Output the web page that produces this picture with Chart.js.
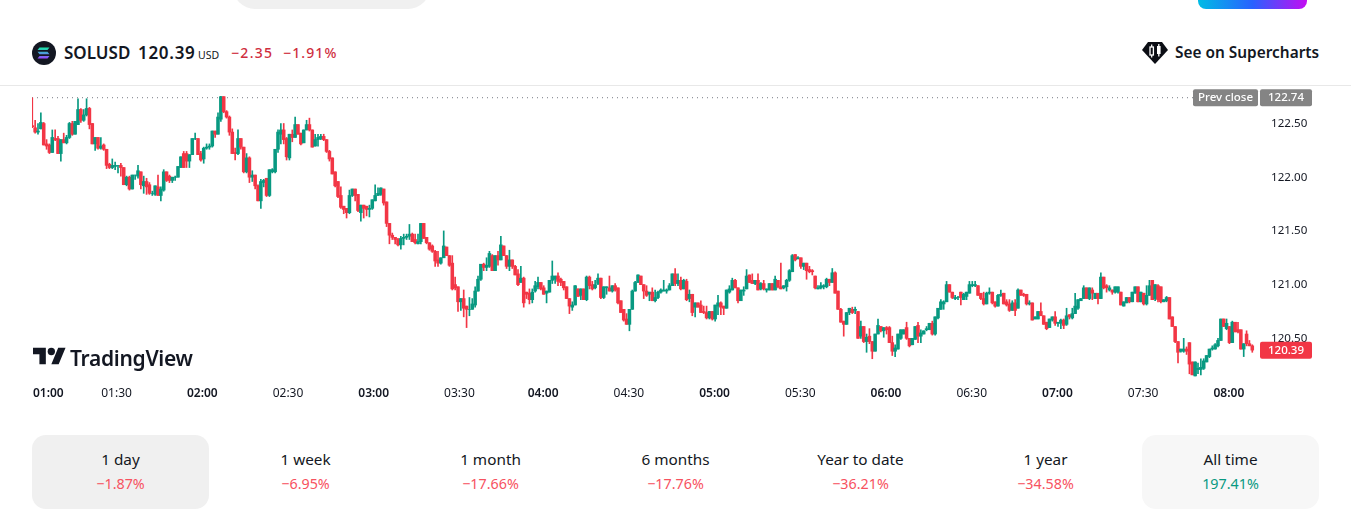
<!DOCTYPE html>
<html>
<head>
<meta charset="utf-8">
<title>SOLUSD</title>
<script src="https://cdn.jsdelivr.net/npm/chart.js@4/dist/chart.umd.min.js"></script>
<style>
  html, body { margin: 0; padding: 0; background: #fff; overflow: hidden; }
  body { width: 1353px; height: 522px; position: relative; font-family: "Noto Sans", sans-serif; color: #131722; }
  .abs { position: absolute; white-space: nowrap; }
  #pill { left: 233px; top: -20px; width: 197px; height: 29px; background: #f0f0f0; border-radius: 0 0 22px 22px; }
  #cta { left: 1198px; top: -20px; width: 109px; height: 29px; border-radius: 0 0 8px 8px; background: linear-gradient(90deg, #00bce5, #2962ff 50%, #c40cf2); }
  #rule { left: 0; top: 85px; width: 1351px; height: 1px; background: #e8e8e8; }
  #sym { left: 64px; top: 41px; font-size: 17px; font-weight: 600; line-height: 24px; }
  #last { left: 138px; top: 41px; font-size: 17px; font-weight: 600; line-height: 24px; letter-spacing: .7px; }
  #cur { left: 198px; top: 47px; font-size: 10.5px; line-height: 16px; }
  #chg { left: 231px; top: 42px; font-size: 14px; font-weight: 500; line-height: 22px; color: #cf2e3e; letter-spacing: 1.3px; }
  #pct { left: 283px; top: 42px; font-size: 14px; font-weight: 500; line-height: 22px; color: #cf2e3e; letter-spacing: 1.1px; }
  #see { left: 1175px; top: 42px; font-size: 15.4px; font-weight: 600; line-height: 22px; }
  #word { left: 70px; top: 342px; font-size: 21px; font-weight: 600; line-height: 32px; letter-spacing: -.3px; }
  #chartWrap { position: absolute; left: 0; top: 86px; width: 1353px; height: 320px; }
  .card { position: absolute; top: 435px; width: 177px; height: 74px; border-radius: 14px; text-align: center; }
  .card .t { position: absolute; left: 0; right: 0; top: 13px; font-size: 15.3px; line-height: 22px; }
  .card .v { position: absolute; left: 0; right: 0; top: 39px; font-size: 14.3px; line-height: 20px; }
</style>
</head>
<body>
<div class="abs" id="pill"></div>
<div class="abs" id="cta"></div>
<svg class="abs" style="left:32px;top:41px" width="24" height="24" viewBox="0 0 24 24">
  <defs><linearGradient id="sol" x1="0" y1="0" x2="0" y2="1"><stop offset="0" stop-color="#19e6a8"/><stop offset=".5" stop-color="#4aa0d8"/><stop offset="1" stop-color="#9a45ff"/></linearGradient></defs>
  <circle cx="12" cy="12" r="12" fill="#131722"/>
  <path d="M7.5 6.5h10l-2 2.6h-10zM5.5 10.7h10l2 2.6h-10zM7.5 14.9h10l-2 2.6h-10z" fill="url(#sol)"/>
</svg>
<div class="abs" id="sym">SOLUSD</div>
<div class="abs" id="last">120.39</div>
<div class="abs" id="cur">USD</div>
<div class="abs" id="chg">−2.35</div>
<div class="abs" id="pct">−1.91%</div>
<svg class="abs" style="left:1142px;top:41px" width="26" height="24" viewBox="0 0 26 24">
  <path d="M6 1h14l6 8-13 14L0 9z" fill="#0c0e15"/>
  <rect x="8" y="6" width="3.4" height="8" fill="none" stroke="#fff" stroke-width="1.3"/><path d="M9.7 3.5v2.5M9.7 14v2.5" stroke="#fff" stroke-width="1.3"/>
  <rect x="15" y="5" width="3.6" height="8" fill="#fff"/><path d="M16.8 3v2M16.8 13v2.5" stroke="#fff" stroke-width="1.3"/>
</svg>
<div class="abs" id="see">See on Supercharts</div>
<div class="abs" id="rule"></div>

<div id="chartWrap"><canvas id="candles" width="1353" height="320"></canvas></div>

<svg class="abs" style="left:33px;top:344px" width="33" height="26" viewBox="0 0 36 28">
  <path d="M14 22H7V11H0V4h14v18zM28 22h-8l7.5-18h8L28 22z" fill="#131722"/><circle cx="20" cy="8" r="4" fill="#131722"/>
</svg>
<div class="abs" id="word">TradingView</div>

<script>
const prevClose = 122.74;
const lastPrice = 120.39;
const yTicks = [120.5, 121, 121.5, 122, 122.5];
const timeLabels = ['01:00','01:30','02:00','02:30','03:00','03:30','04:00','04:30','05:00','05:30','06:00','06:30','07:00','07:30','08:00'];
const timeTicks = [5.6,29.5,59.5,89.5,119.5,149.5,178.8,208.8,238.8,268.8,298.8,328.8,358.8,388.8,418.8];
const statLabels = ['1 day','1 week','1 month','6 months','Year to date','1 year','All time'];
const statValues = ['−1.87%','−6.95%','−17.66%','−17.76%','−36.21%','−34.58%','197.41%'];

const opens = [
122.48,122.46,122.42,122.45,122.50,122.31,122.30,122.23,122.36,122.36,
122.22,122.35,122.32,122.37,122.50,122.40,122.49,122.63,122.53,122.58,
122.64,122.50,122.31,122.37,122.27,122.30,122.26,122.12,122.09,122.10,
122.11,122.11,122.09,121.93,122.00,121.89,122.02,122.01,122.05,121.92,
121.96,121.93,121.85,121.84,121.91,121.83,121.88,122.05,122.01,121.97,
122.00,122.00,122.09,122.22,122.22,122.15,122.21,122.36,122.36,122.22,
122.17,122.27,122.28,122.29,122.43,122.40,122.54,122.75,122.61,122.56,
122.42,122.23,122.22,122.36,122.28,122.05,122.18,122.00,122.02,121.92,
121.78,121.95,121.99,121.83,122.05,122.05,122.26,122.40,122.44,122.36,
122.18,122.40,122.37,122.49,122.41,122.32,122.44,122.49,122.44,122.29,
122.35,122.36,122.38,122.35,122.24,122.18,122.05,121.96,121.83,121.73,
121.71,121.67,121.83,121.89,121.84,121.67,121.74,121.73,121.70,121.71,
121.78,121.83,121.84,121.89,121.77,121.57,121.46,121.44,121.42,121.37,
121.43,121.44,121.45,121.47,121.42,121.38,121.40,121.57,121.44,121.39,
121.36,121.31,121.23,121.20,121.25,121.35,121.27,121.20,121.00,120.98,
120.84,120.87,120.80,120.77,120.77,120.81,120.94,121.05,121.19,121.16,
121.17,121.27,121.13,121.27,121.23,121.36,121.27,121.17,121.23,121.17,
121.10,121.02,121.06,120.93,120.92,120.86,120.94,120.98,121.02,120.97,
120.92,120.93,121.04,121.05,121.08,121.05,121.03,120.98,120.87,120.79,
120.81,120.96,120.90,120.96,120.86,121.07,121.00,120.97,121.01,121.06,
120.88,120.97,120.97,120.94,120.99,120.97,120.85,120.77,120.68,120.63,
120.77,120.94,121.02,121.08,121.00,120.94,120.91,120.93,120.85,120.88,
120.93,120.94,120.94,120.95,120.99,121.10,121.01,121.04,120.96,121.03,
120.87,120.91,120.79,120.83,120.81,120.75,120.74,120.69,120.75,120.68,
120.80,120.83,120.80,120.78,120.93,120.95,121.04,120.97,120.85,120.94,
120.96,121.09,121.04,121.01,121.04,120.96,121.01,120.95,120.95,121.01,
120.95,121.04,120.98,120.97,120.98,121.04,121.12,121.28,121.24,121.25,
121.17,121.20,121.14,121.13,121.08,120.96,120.97,120.98,120.98,121.05,
121.02,121.11,120.94,120.77,120.66,120.63,120.74,120.77,120.76,120.75,
120.52,120.61,120.47,120.52,120.47,120.38,120.54,120.61,120.57,120.60,
120.60,120.46,120.38,120.40,120.50,120.54,120.60,120.50,120.44,120.49,
120.62,120.52,120.54,120.58,120.58,120.64,120.54,120.69,120.77,120.82,
120.84,121.00,120.93,120.87,120.88,120.93,120.86,120.89,120.92,120.99,
120.99,120.99,120.92,120.87,120.82,120.92,120.93,120.84,120.80,120.90,
120.92,120.84,120.82,120.76,120.83,120.78,120.95,120.91,120.91,120.82,
120.83,120.68,120.68,120.75,120.71,120.65,120.60,120.67,120.70,120.64,
120.64,120.67,120.63,120.72,120.69,120.73,120.78,120.85,120.87,120.97,
120.87,120.95,120.87,120.92,120.87,121.07,120.99,120.95,120.95,120.93,
120.93,120.93,120.80,120.83,120.88,120.84,120.92,120.98,120.84,120.92,
120.82,120.90,121.04,120.87,120.99,120.98,120.84,120.85,120.88,120.70,
120.61,120.47,120.38,120.38,120.40,120.46,120.28,120.15,120.21,120.21,
120.22,120.28,120.33,120.40,120.40,120.43,120.48,120.68,120.59,120.61,
120.46,120.65,120.58,120.58,120.40,120.54,120.45,120.43];

const closes = [
122.47,122.42,122.43,122.51,122.30,122.29,122.23,122.37,122.35,122.22,
122.35,122.32,122.37,122.50,122.40,122.52,122.63,122.53,122.58,122.64,
122.49,122.31,122.37,122.27,122.29,122.26,122.11,122.09,122.11,122.11,
122.11,122.09,121.93,122.00,121.89,122.02,122.02,122.06,121.93,121.96,
121.91,121.85,121.85,121.92,121.83,121.89,122.05,121.97,121.97,122.00,
122.00,122.10,122.19,122.09,122.15,122.21,122.36,122.36,122.21,122.16,
122.27,122.28,122.29,122.43,122.40,122.56,122.75,122.61,122.56,122.42,
122.22,122.22,122.36,122.28,122.05,122.18,122.00,122.02,121.92,121.78,
121.96,121.97,121.83,122.07,122.07,122.26,122.42,122.44,122.35,122.19,
122.40,122.37,122.49,122.40,122.31,122.44,122.49,122.44,122.28,122.35,
122.37,122.38,122.35,122.24,122.17,122.03,121.92,121.82,121.72,121.70,
121.67,121.83,121.89,121.83,121.69,121.74,121.71,121.70,121.71,121.79,
121.83,121.85,121.90,121.76,121.57,121.46,121.44,121.42,121.37,121.43,
121.44,121.45,121.47,121.40,121.39,121.40,121.57,121.43,121.39,121.33,
121.31,121.22,121.20,121.25,121.36,121.27,121.18,120.96,120.97,120.84,
120.87,120.78,120.77,120.77,120.82,120.94,121.05,121.19,121.16,121.18,
121.29,121.13,121.27,121.23,121.37,121.27,121.17,121.23,121.17,121.09,
121.00,121.06,120.83,120.91,120.86,120.93,120.99,121.02,120.96,120.91,
120.94,121.04,121.08,121.08,121.03,121.02,120.97,120.87,120.80,120.81,
120.99,120.89,120.96,120.86,121.07,120.99,120.96,121.00,121.06,120.88,
120.98,120.98,120.94,120.99,120.95,120.83,120.74,120.67,120.63,120.77,
120.94,121.02,121.09,121.00,120.94,120.90,120.93,120.85,120.88,120.93,
120.95,120.95,120.95,120.99,121.10,121.01,121.04,120.96,121.04,120.86,
120.91,120.74,120.83,120.79,120.74,120.74,120.69,120.75,120.68,120.81,
120.83,120.79,120.78,120.95,120.96,121.04,120.97,120.85,120.95,120.95,
121.08,121.02,121.01,121.04,120.95,121.01,120.96,120.96,121.01,120.95,
121.05,120.98,120.96,120.99,121.04,121.13,121.27,121.23,121.25,121.17,
121.20,121.13,121.12,121.12,120.97,120.97,120.99,120.99,121.05,121.02,
121.11,120.92,120.77,120.65,120.63,120.74,120.78,120.74,120.77,120.50,
120.61,120.47,120.51,120.47,120.38,120.54,120.62,120.57,120.60,120.58,
120.46,120.38,120.41,120.54,120.58,120.58,120.50,120.43,120.50,120.61,
120.52,120.55,120.57,120.59,120.64,120.54,120.70,120.78,120.84,120.84,
121.00,120.93,120.88,120.88,120.88,120.88,120.91,120.93,121.00,121.00,
121.00,120.90,120.87,120.82,120.92,120.93,120.83,120.80,120.90,120.91,
120.82,120.81,120.76,120.83,120.76,120.95,120.90,120.90,120.82,120.83,
120.67,120.70,120.75,120.71,120.63,120.59,120.68,120.70,120.64,120.65,
120.67,120.62,120.71,120.70,120.73,120.80,120.86,120.87,120.97,120.87,
120.97,120.92,120.92,120.87,121.07,120.97,120.97,120.97,120.93,120.98,
120.98,120.81,120.84,120.88,120.84,120.93,120.98,120.84,120.93,120.82,
120.90,120.99,120.86,121.00,120.86,120.84,120.86,120.88,120.68,120.61,
120.47,120.37,120.40,120.40,120.38,120.26,120.16,120.28,120.22,120.23,
120.29,120.34,120.40,120.41,120.44,120.48,120.68,120.61,120.64,120.46,
120.65,120.56,120.56,120.40,120.45,120.45,120.43,120.39];

const highs = [
122.74,122.53,122.50,122.60,122.51,122.35,122.31,122.44,122.44,122.38,
122.35,122.41,122.39,122.51,122.52,122.52,122.73,122.64,122.63,122.73,
122.65,122.50,122.37,122.37,122.37,122.31,122.26,122.13,122.17,122.14,
122.11,122.13,122.09,122.01,122.01,122.02,122.02,122.11,122.05,122.01,
121.99,121.95,121.87,121.92,122.02,121.91,122.07,122.05,122.02,122.00,
122.01,122.10,122.19,122.24,122.24,122.21,122.36,122.41,122.36,122.24,
122.28,122.31,122.31,122.43,122.43,122.60,122.76,122.75,122.62,122.57,
122.45,122.27,122.44,122.36,122.28,122.22,122.19,122.06,122.02,121.93,
121.98,121.98,121.99,122.07,122.08,122.26,122.44,122.50,122.50,122.37,
122.40,122.44,122.56,122.49,122.41,122.44,122.53,122.55,122.44,122.40,
122.40,122.40,122.40,122.35,122.25,122.18,122.05,121.96,121.91,121.73,
121.71,121.88,121.89,121.89,121.84,121.74,121.74,121.73,121.74,121.79,
121.93,121.90,121.90,121.89,121.77,121.57,121.48,121.44,121.43,121.45,
121.47,121.47,121.56,121.48,121.47,121.47,121.57,121.57,121.44,121.39,
121.37,121.32,121.31,121.25,121.50,121.35,121.27,121.27,121.07,120.98,
120.87,120.95,120.80,120.88,120.87,120.98,121.08,121.19,121.20,121.25,
121.31,121.28,121.27,121.31,121.45,121.36,121.27,121.32,121.23,121.18,
121.14,121.17,121.07,120.93,120.96,120.96,121.03,121.07,121.02,120.99,
120.94,121.04,121.22,121.08,121.11,121.06,121.03,120.98,120.87,120.84,
120.99,120.96,120.96,120.96,121.08,121.08,121.03,121.04,121.10,121.06,
120.98,120.98,121.08,120.99,121.01,120.97,120.85,120.77,120.73,120.77,
120.95,121.03,121.09,121.08,121.00,120.99,120.93,120.97,120.95,120.94,
120.96,121.04,120.96,121.01,121.10,121.15,121.10,121.07,121.05,121.05,
120.95,120.91,120.83,120.83,120.85,120.80,120.80,120.75,120.75,120.81,
120.90,120.84,120.80,120.95,120.99,121.06,121.05,120.97,120.95,120.98,
121.14,121.09,121.10,121.04,121.10,121.02,121.04,120.96,121.01,121.01,
121.08,121.04,121.20,120.99,121.05,121.14,121.28,121.28,121.26,121.25,
121.20,121.20,121.17,121.14,121.08,120.99,121.02,121.00,121.06,121.05,
121.15,121.12,120.94,120.78,120.66,120.74,120.78,120.79,120.79,120.75,
120.66,120.61,120.54,120.59,120.47,120.54,120.68,120.61,120.60,120.61,
120.61,120.52,120.44,120.54,120.58,120.58,120.65,120.50,120.50,120.61,
120.65,120.58,120.57,120.61,120.64,120.66,120.70,120.78,120.86,120.85,
121.03,121.00,120.93,120.90,120.89,120.93,120.92,120.93,121.03,121.03,
121.03,120.99,120.92,120.93,120.93,120.97,120.93,120.84,120.91,120.95,
120.92,120.86,120.86,120.85,120.86,120.96,120.95,120.92,120.91,120.85,
120.83,120.70,120.75,120.83,120.71,120.65,120.68,120.70,120.75,120.65,
120.68,120.68,120.78,120.72,120.78,120.92,120.86,120.87,120.99,120.97,
120.97,120.97,120.92,120.92,121.11,121.07,121.00,120.99,120.95,120.98,
120.98,120.93,120.84,120.88,120.88,120.93,120.98,120.98,120.93,120.92,
120.99,121.04,121.04,121.00,121.00,120.98,120.86,120.89,120.88,120.70,
120.61,120.47,120.40,120.50,120.42,120.46,120.28,120.28,120.27,120.31,
120.31,120.34,120.40,120.43,120.45,120.50,120.68,120.68,120.68,120.61,
120.66,120.65,120.65,120.58,120.45,120.57,120.48,120.44];

const lows = [
122.46,122.41,122.40,122.45,122.30,122.26,122.22,122.23,122.34,122.22,
122.15,122.32,122.31,122.36,122.39,122.40,122.49,122.51,122.52,122.57,
122.45,122.31,122.25,122.26,122.26,122.25,122.08,122.08,122.08,122.07,
122.04,122.01,121.93,121.92,121.88,121.89,121.98,121.99,121.89,121.85,
121.84,121.84,121.83,121.83,121.83,121.78,121.87,121.96,121.95,121.95,
121.97,122.00,122.09,122.09,122.09,122.09,122.21,122.35,122.21,122.15,
122.13,122.26,122.26,122.28,122.37,122.40,122.52,122.60,122.55,122.39,
122.22,122.16,122.21,122.26,122.04,122.04,121.95,121.96,121.89,121.78,
121.71,121.91,121.82,121.82,122.04,122.04,122.23,122.31,122.31,122.16,
122.16,122.33,122.37,122.40,122.30,122.32,122.44,122.43,122.28,122.29,
122.29,122.35,122.34,122.23,122.15,122.03,121.91,121.81,121.71,121.66,
121.62,121.66,121.82,121.78,121.68,121.59,121.62,121.64,121.63,121.70,
121.78,121.83,121.83,121.74,121.54,121.38,121.42,121.38,121.36,121.33,
121.37,121.42,121.42,121.40,121.38,121.38,121.38,121.43,121.38,121.32,
121.30,121.17,121.17,121.19,121.25,121.27,121.17,120.95,120.95,120.75,
120.76,120.70,120.60,120.71,120.77,120.79,120.94,121.04,121.13,121.13,
121.16,121.13,121.13,121.18,121.23,121.27,121.15,121.13,121.15,121.09,
120.99,121.02,120.79,120.87,120.82,120.83,120.93,120.96,120.95,120.91,
120.83,120.93,121.01,121.01,120.99,120.99,120.95,120.87,120.73,120.76,
120.81,120.89,120.86,120.86,120.85,120.96,120.95,120.96,121.00,120.87,
120.87,120.91,120.94,120.93,120.94,120.82,120.74,120.66,120.63,120.57,
120.77,120.94,121.02,121.00,120.87,120.89,120.85,120.85,120.84,120.87,
120.92,120.94,120.92,120.95,120.99,120.99,120.99,120.95,120.96,120.85,
120.84,120.71,120.70,120.79,120.74,120.73,120.68,120.68,120.67,120.66,
120.72,120.72,120.72,120.78,120.92,120.95,120.97,120.83,120.85,120.90,
120.96,121.02,121.01,121.00,120.95,120.95,120.95,120.93,120.95,120.95,
120.95,120.97,120.96,120.96,120.94,121.03,121.12,121.22,121.24,121.15,
121.14,121.05,121.11,121.09,120.96,120.96,120.96,120.96,120.97,120.99,
121.02,120.92,120.77,120.65,120.52,120.63,120.72,120.73,120.73,120.50,
120.50,120.46,120.37,120.45,120.31,120.38,120.54,120.56,120.51,120.54,
120.46,120.34,120.33,120.40,120.49,120.54,120.49,120.42,120.44,120.49,
120.46,120.46,120.54,120.57,120.58,120.53,120.53,120.68,120.77,120.77,
120.84,120.93,120.87,120.86,120.86,120.81,120.86,120.86,120.92,120.98,
120.98,120.90,120.86,120.81,120.82,120.91,120.82,120.79,120.80,120.89,
120.82,120.80,120.75,120.76,120.71,120.78,120.90,120.89,120.81,120.81,
120.67,120.68,120.68,120.71,120.63,120.58,120.60,120.66,120.62,120.61,
120.59,120.59,120.62,120.68,120.68,120.73,120.77,120.85,120.87,120.87,
120.86,120.86,120.87,120.82,120.87,120.96,120.93,120.94,120.91,120.92,
120.92,120.81,120.80,120.83,120.83,120.84,120.92,120.84,120.84,120.81,
120.81,120.90,120.86,120.85,120.84,120.83,120.84,120.84,120.68,120.61,
120.46,120.27,120.37,120.37,120.35,120.17,120.16,120.15,120.17,120.16,
120.21,120.28,120.32,120.39,120.40,120.42,120.48,120.61,120.58,120.45,
120.46,120.56,120.55,120.40,120.33,120.43,120.43,120.37];

const upColor = '#089981';
const downColor = '#F23645';
const candleColors = opens.map((o, i) => closes[i] >= o ? upColor : downColor);

// stat cards under the chart
statLabels.forEach((label, i) => {
  const card = document.createElement('div');
  card.className = 'card';
  card.style.left = (32 + i * 185) + 'px';
  if (i === 0) card.style.background = '#f0f0f0';
  if (i === 6) card.style.background = '#f7f7f7';
  const isUp = !statValues[i].startsWith('−');
  card.innerHTML = '<div class="t">' + label + '</div><div class="v" style="color:' + (isUp ? upColor : '#F7525F') + '">' + statValues[i] + '</div>';
  document.body.appendChild(card);
});

const fontName = '"Noto Sans", sans-serif';

function tag(ctx, x, y, w, color, text) {
  ctx.fillStyle = color;
  ctx.beginPath();
  ctx.roundRect(x, y - 8.5, w, 17, 2);
  ctx.fill();
  ctx.fillStyle = '#fff';
  ctx.font = '500 11.5px ' + fontName;
  ctx.textAlign = 'center';
  ctx.textBaseline = 'middle';
  ctx.fillText(text, x + w / 2, y + 0.5);
}

// price tags on the right axis
const priceTags = {
  id: 'priceTags',
  afterDraw(chart) {
    const { ctx, scales: { y } } = chart;
    ctx.save();
    tag(ctx, 1193, y.getPixelForValue(prevClose), 65, '#848484', 'Prev close');
    tag(ctx, 1260, y.getPixelForValue(prevClose), 52, '#848484', prevClose.toFixed(2));
    tag(ctx, 1260, y.getPixelForValue(lastPrice), 52, downColor, lastPrice.toFixed(2));
    ctx.restore();
  }
};

const xMin = -0.1;
const xMax = 429;

new Chart(document.getElementById('candles').getContext('2d'), {
  data: {
    datasets: [
      {
        type: 'bar', order: 1, grouped: false, barThickness: 2.9,
        data: opens.map((o, i) => ({ x: i, y: [o, closes[i]] })),
        backgroundColor: candleColors
      },
      {
        type: 'bar', order: 2, grouped: false, barThickness: 1,
        data: lows.map((l, i) => ({ x: i, y: [l, highs[i]] })),
        backgroundColor: candleColors
      },
      {
        type: 'line', order: 3,
        data: [{ x: xMin, y: prevClose }, { x: xMax, y: prevClose }],
        borderColor: '#787b86', borderWidth: 1, borderDash: [1, 4], pointRadius: 0
      }
    ]
  },
  options: {
    responsive: false,
    animation: false,
    layout: { padding: { left: 32, top: 10 } },
    plugins: { legend: { display: false }, tooltip: { enabled: false } },
    scales: {
      x: {
        type: 'linear', min: xMin, max: xMax, offset: false,
        grid: { display: false, drawTicks: false },
        border: { display: false },
        afterBuildTicks: s => { s.ticks = timeTicks.map(v => ({ value: v })); },
        afterFit: s => { s.height = 26; s.paddingLeft = 0; s.paddingRight = 0; },
        ticks: {
          autoSkip: false, maxRotation: 0, padding: 6, color: '#131722',
          font: c => ({ family: fontName, size: 12, weight: (timeLabels[c.index] || '').endsWith(':00') ? '600' : '400' }),
          callback: (v, i) => timeLabels[i]
        }
      },
      y: {
        position: 'right', min: 120.112, max: 122.756,
        grid: { display: false, drawTicks: false },
        border: { display: false },
        afterBuildTicks: s => { s.ticks = yTicks.map(v => ({ value: v })); },
        afterFit: s => { s.width = 95; s.paddingTop = 0; s.paddingBottom = 0; },
        ticks: {
          padding: 13, color: '#131722', font: { family: fontName, size: 11.6 },
          callback: v => v.toFixed(2)
        }
      }
    }
  },
  plugins: [priceTags]
});
</script>
</body>
</html>
